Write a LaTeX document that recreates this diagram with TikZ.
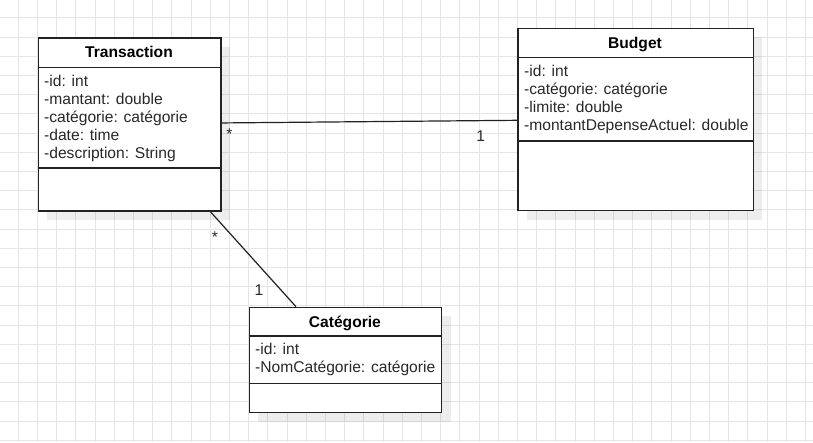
\documentclass[tikz,border=0pt]{standalone}
\usepackage{fontspec}
\setmainfont{Liberation Sans}
\usetikzlibrary{shadows}
\definecolor{gridcol}{RGB}{229,229,229}
\definecolor{linecol}{RGB}{34,34,34}
\definecolor{textcol}{RGB}{40,40,40}
\begin{document}
\begin{tikzpicture}[x=1pt, y=-1pt,
  classbox/.style={draw=linecol, line width=1.3pt, fill=white, anchor=north west, inner sep=0pt,
    drop shadow={shadow xshift=9pt, shadow yshift=-9pt, fill=black, opacity=.07}},
  classname/.style={anchor=base, inner sep=0pt, font=\fontsize{15.6}{18}\selectfont\bfseries},
  attr/.style={anchor=base west, inner sep=0pt, text=textcol, font=\fontsize{15.6}{18}\selectfont},
  mult/.style={inner sep=0pt, text=textcol, font=\fontsize{15.6}{18}\selectfont},
  sep/.style={draw=linecol, line width=1.3pt},
  assoc/.style={draw=linecol, line width=1.2pt},
  gridline/.style={draw=gridcol, line width=1pt}]
\useasboundingbox (0,0) rectangle (813,442);
\fill[white] (0,0) rectangle (813,442);
\foreach \k in {1,...,42} \draw[gridline] ({-0.9+19.2*\k},0) -- ({-0.9+19.2*\k},442);
\foreach \k in {1,...,23} \draw[gridline] (0,{-1.3+19.2*\k}) -- (813,{-1.3+19.2*\k});
\node[classbox, minimum width=182.6pt, minimum height=173pt] (trans) at (37.7,37.3){};
\draw[sep] ([yshift=-30pt]trans.north west) -- ([yshift=-30pt]trans.north east);
\draw[sep] ([yshift=43.6pt]trans.south west) -- ([yshift=43.6pt]trans.south east);
\node[classname] (transname) at (129,57.7){Transaction};
\node[attr] (transid) at (44,86.6){-id: int};
\node[attr] (transmontant) at (44,104.5){-mantant: double};
\node[attr] (transcat) at (44,122.4){-catégorie: catégorie};
\node[attr] (transdate) at (44,140.3){-date: time};
\node[attr] (transdesc) at (44,158.2){-description: String};
\node[classbox, minimum width=235.4pt, minimum height=182.3pt] (budget) at (517.3,27.7){};
\draw[sep] ([yshift=-30pt]budget.north west) -- ([yshift=-30pt]budget.north east);
\draw[sep] ([yshift=70.3pt]budget.south west) -- ([yshift=70.3pt]budget.south east);
\node[classname] (budgetname) at (635,48.3){Budget};
\node[attr] (budgetid) at (524,76.5){-id: int};
\node[attr] (budgetcat) at (524,94.4){-catégorie: catégorie};
\node[attr] (budgetlim) at (524,112.3){-limite: double};
\node[attr] (budgetmont) at (524,130.2){-montantDepenseActuel: double};
\node[classbox, minimum width=192.3pt, minimum height=105.3pt] (cat) at (248.7,306.7){};
\draw[sep] ([yshift=-29.3pt]cat.north west) -- ([yshift=-29.3pt]cat.north east);
\draw[sep] ([yshift=30pt]cat.south west) -- ([yshift=30pt]cat.south east);
\node[classname] (catname) at (344.9,327.5){Catégorie};
\node[attr] (catid) at (255,354.5){-id: int};
\node[attr] (catnom) at (255,372.4){-NomCatégorie: catégorie};
\draw[assoc] ([yshift=1.5pt]trans.east) -- ([yshift=-0.8pt]budget.west);
\draw[assoc] ([xshift=-11.3pt]trans.south east) -- ([xshift=47.3pt]cat.north west);
\node[mult] (transbudgetm) at (229.3,134){*};
\node[mult] (budgettransm) at (480.7,136.5){1};
\node[mult] (transcatm) at (215,237){*};
\node[mult] (cattransm) at (259,290.5){1};
\end{tikzpicture}
\end{document}
